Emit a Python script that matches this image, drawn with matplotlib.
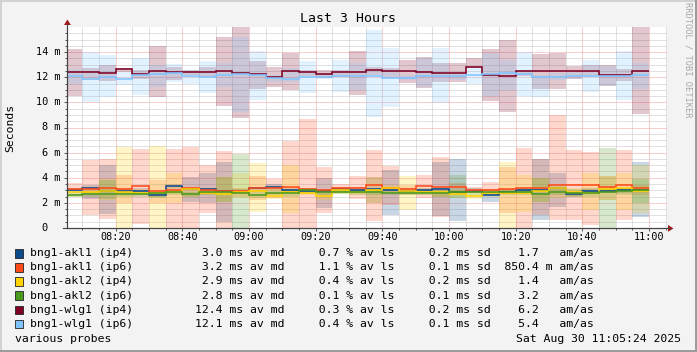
import matplotlib
matplotlib.use('Agg')
import matplotlib.pyplot as plt
from matplotlib.patches import Polygon, Rectangle
from matplotlib.lines import Line2D
import matplotlib.transforms as mtransforms

W, H, DPI = 697, 352, 100
MONO = 'DejaVu Sans Mono'

# ---------------- data (time in minutes after 08:00, values in ms) ----------------
t_start, t_end = 5.4, 185.4                      # 08:05:24 .. 11:05:24
bar_edges = [5.4] + list(range(10, 181, 5))      # 5-minute steps, last ends at 11:00

labels = ['bng1-akl1 (ip4)', 'bng1-akl1 (ip6)', 'bng1-akl2 (ip4)',
          'bng1-akl2 (ip6)', 'bng1-wlg1 (ip4)', 'bng1-wlg1 (ip6)']
colors = ['#0d4a8c', '#ff4a1a', '#ffd200', '#4a9a1c', '#7f0025', '#80c4ff']

akl1_ip4_med = [3.0,3.22,2.92,2.98,2.98,2.65,3.34,3.12,3.1,2.95,2.9,3.15,3.28,3.0,2.95,2.95,3.1,3.05,
                3.1,3.05,2.98,3.0,3.08,2.9,2.97,2.65,2.9,3.0,3.05,3.2,2.72,2.95,2.95,3.0,3.05]
akl1_ip4_lo = [2.8,2.28,1.1,2.8,2.8,2.5,3.1,2.09,1.96,0.5,2.8,2.9,3.0,2.8,2.8,1.57,2.9,2.8,
               1.96,1.0,2.8,2.8,0.95,0.58,2.8,2.09,2.7,2.8,0.6,1.7,2.5,2.8,2.8,2.8,0.9]
akl1_ip4_hi = [3.2,3.42,5.0,3.2,3.2,2.9,3.5,4.08,4.35,5.28,3.1,3.3,3.5,3.2,3.1,3.95,3.3,3.3,
               4.08,4.6,3.2,3.2,5.28,5.49,3.2,2.75,3.1,3.2,5.46,4.4,2.9,3.2,3.2,3.2,5.28]

akl1_ip6_med = [3.08,3.1,3.16,3.08,3.32,2.92,3.02,3.16,3.0,2.97,2.97,3.22,3.2,3.24,3.08,3.02,3.16,3.16,
                3.4,3.22,3.08,3.36,3.28,3.24,3.02,3.06,3.1,3.16,3.2,3.42,3.4,3.42,3.3,3.42,3.16]
akl1_ip6_lo = [3.0,1.03,0.69,1.96,0.28,1.96,0.0,0.0,1.2,0.0,2.5,2.25,2.4,0.0,0.0,1.17,2.76,2.28,
               0.53,1.8,2.6,2.36,0.9,2.6,2.8,2.76,1.2,0.0,1.0,0.64,0.64,0.24,2.23,0.6,2.6]
akl1_ip6_hi = [3.55,5.41,5.49,4.2,6.28,3.82,6.32,6.48,5.01,6.1,3.2,4.1,3.9,6.95,8.65,4.88,3.5,4.14,
               6.22,4.9,3.4,4.22,5.62,3.6,3.3,3.68,4.88,6.4,5.46,9.0,6.2,6.02,4.14,6.2,3.4]

akl2_ip4_med = [2.85,2.9,2.95,2.88,2.78,2.8,2.9,3.12,2.8,2.7,2.84,2.95,2.55,2.86,2.82,2.55,3.0,2.85,
                3.05,3.18,2.92,2.85,2.85,2.7,2.58,2.78,2.78,2.76,2.94,3.15,2.85,2.82,3.08,3.15,2.98]
akl2_ip4_lo = [2.5,2.6,2.23,0.0,2.6,0.0,1.96,2.5,2.6,2.09,2.36,1.3,2.3,1.17,2.6,2.2,2.7,2.6,
               1.96,2.7,1.46,2.6,2.5,2.4,2.3,2.5,0.0,1.3,2.1,2.4,2.5,1.4,2.23,1.43,1.17]
akl2_ip4_hi = [2.9,3.3,3.87,6.47,3.1,6.5,4.4,3.3,3.2,4.08,4.35,5.15,3.3,5.01,3.2,3.0,3.2,3.2,
               4.08,3.4,4.16,3.2,3.1,3.0,2.9,3.1,5.28,4.22,3.95,3.4,3.2,4.35,4.14,4.35,5.0]

akl2_ip6_med = [2.63,2.68,2.7,2.7,2.7,2.76,2.84,2.68,2.84,2.84,2.76,2.63,2.8,2.78,3.0,2.88,2.9,2.84,
                2.86,2.82,2.8,2.8,2.76,2.84,2.84,2.9,2.84,2.84,2.68,2.9,2.8,2.8,2.84,2.92,3.05]
akl2_ip6_lo = [2.5,2.5,2.3,2.5,2.5,2.4,2.6,2.5,2.6,2.09,0.0,2.4,2.6,2.5,2.7,2.6,2.7,2.6,
               2.6,2.6,2.6,2.6,2.5,2.36,2.6,2.7,2.6,2.6,2.1,2.6,2.5,2.5,0.0,2.6,2.0]
akl2_ip6_hi = [2.75,2.9,3.8,2.9,2.9,2.9,3.0,2.9,3.1,4.08,5.9,2.9,3.0,3.0,3.2,3.1,3.1,3.0,
               3.1,3.0,3.0,3.0,3.0,4.2,3.0,3.1,3.1,3.1,3.95,3.2,3.1,3.1,6.4,3.2,3.9]

wlg1_ip4_med = [12.45,12.45,12.35,12.62,12.22,12.5,12.38,12.45,12.45,12.52,12.35,12.22,12.03,12.5,
                12.45,12.25,12.45,12.4,12.55,12.52,12.48,12.38,12.32,12.36,12.8,12.2,12.08,12.47,
                12.47,12.47,12.47,12.47,12.15,12.15,12.47]
wlg1_ip4_lo = [10.47,11.8,11.68,12.45,11.9,10.4,11.75,12.15,12.0,9.7,8.77,11.05,11.22,11.0,12.1,
               11.97,12.0,10.58,12.17,11.95,11.51,11.11,11.64,11.64,12.7,10.1,9.25,12.1,11.06,11.05,
               11.9,12.1,11.3,11.7,9.07]
wlg1_ip4_hi = [14.23,12.7,12.95,12.75,12.55,14.5,12.85,12.6,12.8,15.2,16.0,13.3,12.82,13.97,12.6,
               12.55,12.6,14.05,12.83,12.7,13.37,13.63,13.1,13.1,13.5,14.25,15.0,12.6,13.85,13.95,
               12.87,13.0,12.95,12.67,16.0]

wlg1_ip6_med = [12.13,11.87,12.05,11.87,12.15,12.22,12.32,12.12,12.05,12.2,12.28,12.18,11.95,11.88,
                12.05,12.05,12.08,12.08,12.1,11.97,11.97,12.08,12.08,12.08,12.2,12.22,12.32,12.22,
                12.02,12.02,12.12,12.08,12.08,12.08,12.15]
wlg1_ip6_lo = [11.45,10.05,10.42,11.35,10.6,11.2,11.6,11.46,10.72,11.25,9.25,10.15,11.6,11.6,10.75,
               11.9,10.8,10.95,8.8,9.65,11.8,11.2,9.92,11.8,11.5,10.5,11.0,10.5,10.4,11.8,11.9,
               10.8,11.3,10.15,11.06]
wlg1_ip6_hi = [12.62,14.0,13.8,12.45,13.53,13.0,13.05,12.55,13.3,13.1,15.2,14.1,12.2,12.75,13.27,
               12.3,13.35,13.1,15.75,14.3,12.2,13.5,14.3,12.3,12.7,13.9,13.4,14.0,12.2,12.3,12.4,
               13.35,12.9,14.1,13.14]

medians = [akl1_ip4_med, akl1_ip6_med, akl2_ip4_med, akl2_ip6_med, wlg1_ip4_med, wlg1_ip6_med]
lows = [akl1_ip4_lo, akl1_ip6_lo, akl2_ip4_lo, akl2_ip6_lo, wlg1_ip4_lo, wlg1_ip6_lo]
highs = [akl1_ip4_hi, akl1_ip6_hi, akl2_ip4_hi, akl2_ip6_hi, wlg1_ip4_hi, wlg1_ip6_hi]

av_md = [3.0, 3.2, 2.9, 2.8, 12.4, 12.1]
av_ls = [0.7, 1.1, 0.4, 0.1, 0.3, 0.4]
sd_vals = [0.2, 0.1, 0.2, 0.1, 0.2, 0.1]
amas_vals = [1.7, 850.4, 1.4, 3.2, 6.2, 5.4]
amas_units = [' ', 'm', ' ', ' ', ' ', ' ']

xtick_pos = [20, 40, 60, 80, 100, 120, 140, 160, 180]
xtick_labels = ['08:20', '08:40', '09:00', '09:20', '09:40', '10:00', '10:20', '10:40', '11:00']
ytick_pos = [0, 2, 4, 6, 8, 10, 12, 14]
ytick_labels = ['0', '2 m', '4 m', '6 m', '8 m', '10 m', '12 m', '14 m']

title = 'Last 3 Hours'
ylabel = 'Seconds'
footer_left = 'various probes'
footer_right = 'Sat Aug 30 11:05:24 2025'
watermark = 'RRDTOOL / TOBI OETIKER'

# ---------------- figure ----------------
def fx(px):
    return px / W

def fy(py):
    return 1 - py / H

fig = plt.figure(figsize=(W / DPI, H / DPI), dpi=DPI, facecolor='#f3f3f3')

# frame
fig.add_artist(Rectangle((0, fy(2)), 1, 2 / H, transform=fig.transFigure, color='#d2d2d2', lw=0))
fig.add_artist(Rectangle((0, 0), 2 / W, 1, transform=fig.transFigure, color='#d2d2d2', lw=0))
fig.add_artist(Rectangle((0, 0), 1, 2 / H, transform=fig.transFigure, color='#9c9c9c', lw=0))
fig.add_artist(Rectangle((fx(W - 2), 0), 2 / W, 1, transform=fig.transFigure, color='#9c9c9c', lw=0))

ax = fig.add_axes([fx(67), fy(228), fx(600), 201 / H])
ax.set_facecolor('white')
ax.set_xlim(t_start, t_end)
ax.set_ylim(0, 16)

# grid
ax.set_xticks(xtick_pos)
ax.set_xticks([m for m in range(10, 186, 5) if m % 20 != 0], minor=True)
ax.set_yticks(ytick_pos)
ax.set_yticks([v * 0.5 for v in range(1, 32) if v % 4 != 0], minor=True)
ax.set_axisbelow(True)
ax.grid(which='minor', color='#c4c4c4', linestyle=(0, (1, 1)), lw=0.72)
ax.grid(which='major', color='#f0a0a0', linestyle=(0, (1, 1)), lw=0.72)
ax.tick_params(which='major', direction='out', length=2.2, width=0.7, color='#555555',
               labelbottom=False, labelleft=False)
ax.tick_params(which='minor', direction='out', length=1.4, width=0.7, color='#555555')
for s in ['top', 'right']:
    ax.spines[s].set_visible(False)
for s in ['left', 'bottom']:
    ax.spines[s].set_color('#444444')
    ax.spines[s].set_linewidth(0.8)

# smoke bands
for lo, hi, c in zip(lows, highs, colors):
    ax.stairs(hi, bar_edges, baseline=lo, fill=True, color=c, alpha=0.22, lw=0, zorder=2)
# median lines
for med, c in zip(medians, colors):
    ax.stairs(med, bar_edges, baseline=None, color=c, lw=1.15, zorder=3)

# axis extensions and arrows
fig.add_artist(Line2D([fx(67.4), fx(67.4)], [fy(228), fy(24)], transform=fig.transFigure,
                      color='#444444', lw=0.8))
fig.add_artist(Line2D([fx(63), fx(670)], [fy(228.4), fy(228.4)], transform=fig.transFigure,
                      color='#444444', lw=0.8))
fig.add_artist(Polygon([[fx(64), fy(25)], [fx(70.8), fy(25)], [fx(67.4), fy(19.5)]],
                       closed=True, transform=fig.transFigure, color='#a01818', lw=0))
fig.add_artist(Polygon([[fx(668), fy(225)], [fx(668), fy(231.8)], [fx(673.5), fy(228.4)]],
                       closed=True, transform=fig.transFigure, color='#a01818', lw=0))

# tick labels
tr = mtransforms.blended_transform_factory(ax.transData, fig.transFigure)
for p, lab in zip(xtick_pos, xtick_labels):
    ax.text(p, fy(237), lab, transform=tr, ha='center', va='center',
            fontsize=7.3, family=MONO, color='black')
tr_y = mtransforms.blended_transform_factory(fig.transFigure, ax.transData)
for v, lab in zip(ytick_pos, ytick_labels):
    xr = 47.8 if not lab.endswith('m') else 60.4
    ax.text(fx(xr), v, lab, transform=tr_y, ha='right', va='center',
            fontsize=7.4, family=MONO, color='black')

# title, axis label, watermark
fig.text(fx(348), fy(19), title, ha='center', va='center', fontsize=9.5, family=MONO)
fig.text(fx(10.5), fy(128), ylabel, ha='center', va='center', rotation=90, fontsize=8.2, family=MONO)
fig.text(fx(688), fy(60), watermark, ha='center', va='center', rotation=270,
         fontsize=6.3, family=MONO, color='#a8a8a8')

# legend
row_y = [253.5, 267.5, 281.5, 295.8, 310, 324]
for i in range(len(labels)):
    y = row_y[i]
    fig.add_artist(Rectangle((fx(14.8), fy(y + 4.4)), 8.3 / W, 8.8 / H, transform=fig.transFigure,
                             facecolor=colors[i], edgecolor='#222222', lw=0.6))
    s = (f"{labels[i]:<23}{av_md[i]:5.1f} ms av md{av_ls[i]:8.1f} % av ls"
         f"{sd_vals[i]:8.1f} ms sd{amas_vals[i]:7.1f} {amas_units[i]} am/as")
    fig.text(fx(30.2), fy(y), s, ha='left', va='center', fontsize=8.25, family=MONO)

fig.text(fx(15), fy(338.5), footer_left, ha='left', va='center', fontsize=8.25, family=MONO)
fig.text(fx(680.5), fy(338.5), footer_right, ha='right', va='center', fontsize=8.25, family=MONO)

fig.savefig('out.png', dpi=DPI, facecolor=fig.get_facecolor())
